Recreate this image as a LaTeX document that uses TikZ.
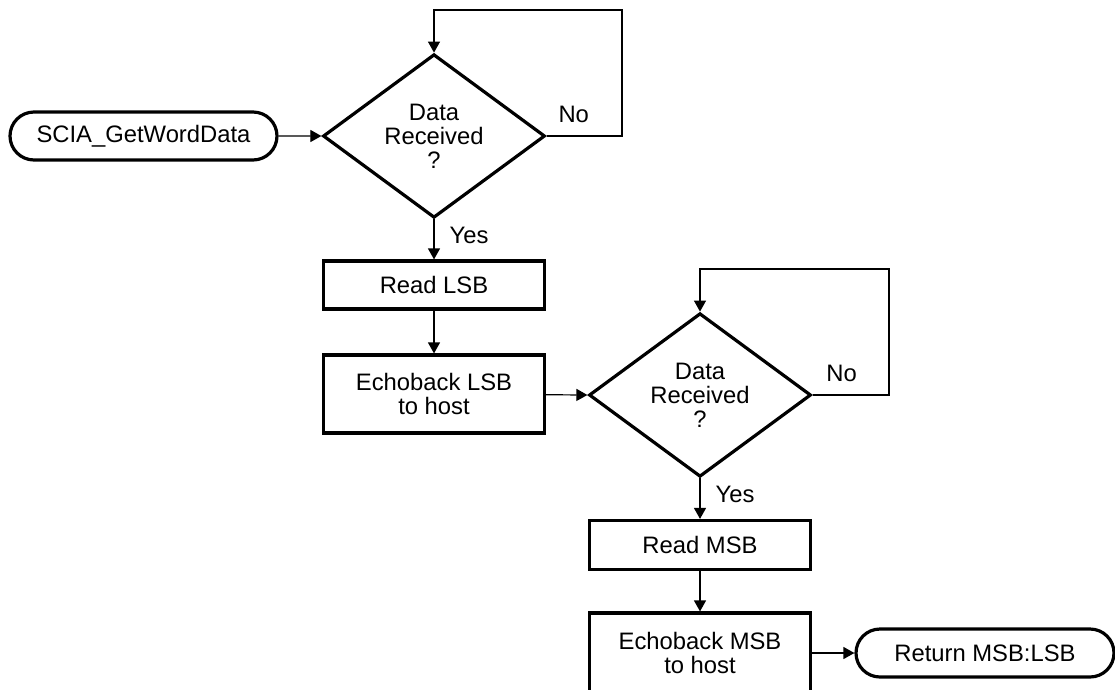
\documentclass[tikz,border=0pt]{standalone}
\usepackage{fontspec}
\setmainfont{Liberation Sans}
\usetikzlibrary{arrows.meta,shapes.geometric,shapes.misc}

\tikzset{
  term/.style={draw, rounded rectangle, line width=3.2pt, minimum height=48pt, inner sep=0pt},
  proc/.style={draw, rectangle, line width=3.2pt, minimum width=221pt, align=center, inner sep=0pt},
  decide/.style={draw, diamond, line width=3.2pt, minimum width=222pt, minimum height=156pt, align=center, inner sep=0pt},
  flow/.style={line width=1.2pt, -{Triangle[length=11pt,width=12pt]}},
  tag/.style={inner sep=2pt}
}

\begin{document}
\begin{tikzpicture}[x=1pt, y=-1pt, font=\fontsize{23.8}{24}\selectfont]
\useasboundingbox (0,0) rectangle (1115,689);
\clip (0,0) rectangle (1115,689);
% left column
\node[term, minimum width=267pt] (START) at (143.5,136) {SCIA\_GetWordData};
\node[decide] (D1) at (434,136) {Data\\Received\\?};
\node[proc, minimum height=48pt] (RL) at (434,285) {Read LSB};
\node[proc, minimum height=78pt] (EL) at (434,394) {Echoback LSB\\to host};
% right column
\node[decide] (D2) at (700,395) {Data\\Received\\?};
\node[proc, minimum height=49pt] (RM) at (700,545) {Read MSB};
\node[proc, minimum height=80pt] (EM) at (700,653) {Echoback MSB\\to host};
\node[term, minimum width=258pt] (RET) at (985,653) {Return MSB:LSB};
% loop corners
\coordinate (L1) at (622,10);
\coordinate (L2) at (889,269);
\draw[flow] (START) -- (D1);
\draw[flow] (D1.east) -| node[tag, pos=0.18, above=11pt] {No} (L1) -| (D1.north);
\draw[flow] (D1.south) -- node[tag, pos=0.4, right=13pt] {Yes} (RL);
\draw[flow] (RL) -- (EL);
\draw[flow] (EL) -- (D2.west);
\draw[flow] (D2.east) -| node[tag, pos=0.19, above=11pt] {No} (L2) -| (D2.north);
\draw[flow] (D2.south) -- node[tag, pos=0.4, right=13pt] {Yes} (RM);
\draw[flow] (RM) -- (EM);
\draw[flow] (EM) -- (RET);
\end{tikzpicture}
\end{document}
